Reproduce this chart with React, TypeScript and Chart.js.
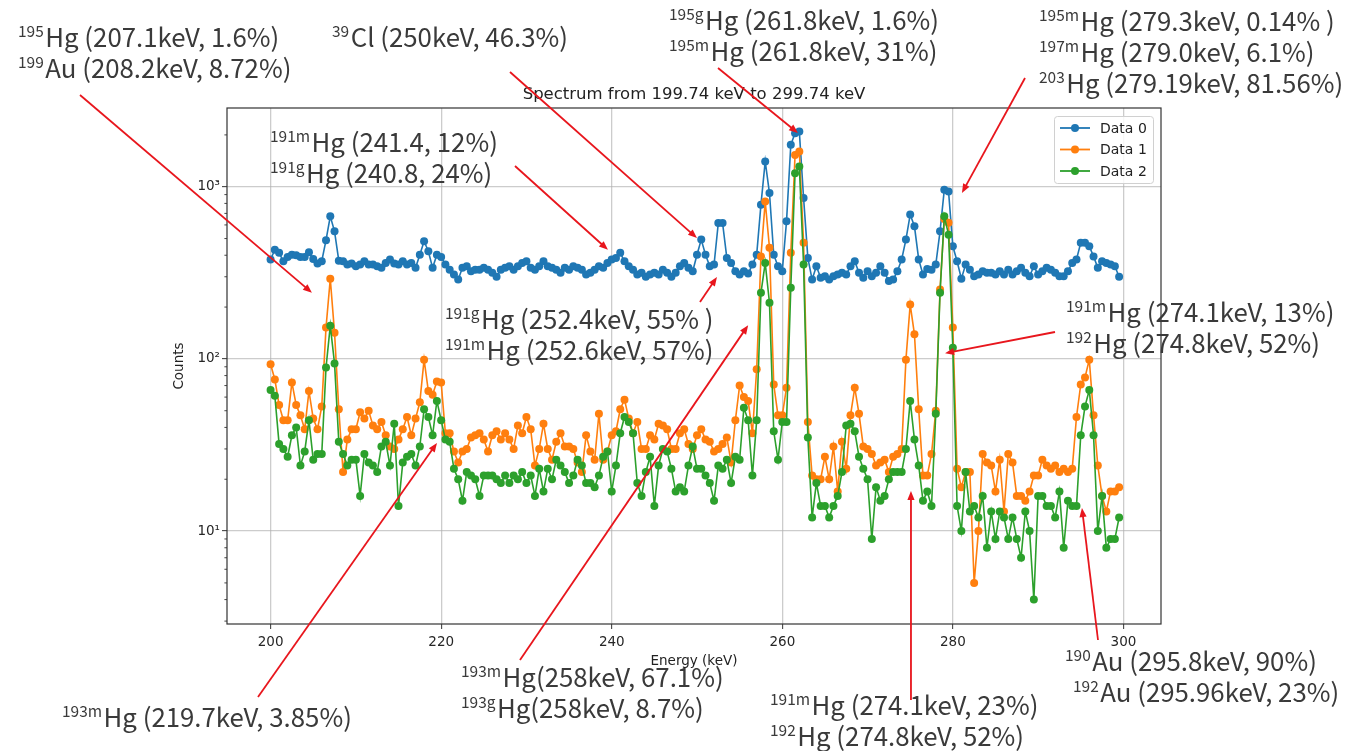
import React, { useEffect, useRef } from 'react';
import { Chart, registerables } from 'chart.js';

Chart.register(...registerables);

// ---- data -------------------------------------------------------------
const BIN_START = 199.74; // keV, first bin edge (from the title)
const BIN_WIDTH = 0.5; // keV per bin

const SERIES_LABELS = ['Data 0', 'Data 1', 'Data 2'];
const SERIES_COLORS = ['#1f77b4', '#ff7f0e', '#2ca02c'];

const DATA_0 = [
  378, 431, 413, 369, 391, 403, 400, 391, 391, 416, 381, 358, 369, 489, 673, 551, 372, 369, 353, 358,
  345, 353, 369, 353, 353, 345, 338, 361, 378, 358, 353, 369, 353, 361, 338, 403, 482, 422, 338, 403,
  391, 353, 330, 309, 289, 338, 345, 323, 330,
  330, 338, 330, 316, 300, 330, 338, 345, 330, 345, 361, 369, 338, 330, 345, 369, 345, 338, 330, 316,
  338, 330, 345, 338, 330, 309, 316, 330, 345, 338, 361, 378, 386, 413, 369, 345, 330, 309, 316, 300,
  309, 316, 309, 330, 316, 300, 316, 345, 361, 338,
  323, 403, 493, 403, 345, 353, 616, 616, 386, 361, 323, 309, 323, 313, 353, 403, 787, 1402, 919, 403,
  345, 323, 630, 1751, 2047, 2094, 859,
  386, 289, 345, 296, 302, 289, 302, 309, 316, 309, 345, 369, 316, 296, 323, 302, 316, 345, 316, 283,
  289, 323, 378, 493, 689, 589, 378, 309, 333, 330, 353, 551, 961, 937, 451, 369, 292, 353, 330, 302,
  309, 323,
  316, 316, 309, 323, 309, 330, 309, 323, 338, 316, 302, 345, 309, 323, 338, 330, 316, 302, 302, 323,
  361, 378, 472, 472, 451, 394, 338, 369, 361, 353, 345, 300,
];

const DATA_1 = [
  93, 76, 54, 44, 44, 73, 54, 47, 39, 65, 45, 39, 53, 152, 292, 142, 51, 22, 34, 39,
  39, 49, 45, 50, 41, 39, 43, 36, 31, 30, 34, 39, 46, 36, 45, 56, 99, 65, 62, 74,
  73, 37, 37, 29, 25, 29, 30, 35, 36,
  37, 34, 29, 36, 38, 34, 37, 34, 30, 41, 37, 46, 39, 24, 30, 42, 30, 26, 33, 37,
  31, 31, 30, 25, 22, 36, 29, 26, 48, 26, 29, 36, 38, 51, 58, 45, 37, 43, 30, 30,
  36, 34, 42, 41, 39, 30, 30, 37, 39, 32, 30,
  36, 39, 34, 33, 29, 30, 32, 35, 25, 44, 70, 60, 57, 37, 87, 394, 820, 442, 71, 47,
  47, 68, 413, 1530, 1600, 472, 43,
  21, 20, 20, 27, 20, 31, 17, 33, 23, 47, 68, 48, 31, 30, 28, 24, 25, 26, 22, 27,
  28, 30, 99, 207, 139, 51, 21, 21, 28, 50, 253, 650, 617, 152,
  23, 18, 22, 22, 5, 10, 28, 25, 24, 17, 26, 13, 28, 25, 16, 16, 15, 17, 21, 21,
  26, 24, 23, 24, 22, 23, 22, 23, 46, 71, 78, 99, 47, 24, 16, 13, 17, 17, 18,
];

const DATA_2 = [
  66, 61, 32, 30, 27, 36, 40, 24, 29, 44, 26, 28, 28, 89, 156, 94, 33, 28, 24, 26,
  26, 16, 28, 25, 24, 22, 31, 33, 24, 42, 14, 25, 27, 28, 24, 31, 51, 46, 36, 57,
  44, 34, 33, 23, 20, 15, 22, 21, 20,
  16, 21, 21, 21, 20, 19, 21, 19, 21, 20, 22, 19, 21, 16, 23, 17, 23, 20, 26, 24,
  22, 19, 21, 26, 24, 19, 19, 18, 21, 27, 29, 17, 24, 37, 46, 43, 37, 19, 16, 22,
  27, 14, 24, 30, 29, 23, 17, 18, 17, 24,
  31, 23, 23, 21, 19, 15, 24, 23, 26, 19, 27, 26, 52, 44, 21, 44, 242, 361, 212, 38,
  26, 43, 43, 259, 1199, 1312, 353, 35,
  12, 19, 14, 14, 12, 14, 16, 22, 41, 42, 38, 27, 23, 20, 9, 18, 15, 16, 20, 22,
  22, 22, 30, 57, 34, 24, 15, 17, 14, 48, 242, 673, 527, 116,
  14, 10, 22, 13, 14, 12, 16, 8, 13, 9, 13, 12, 9, 12, 9, 7, 13, 10, 4, 16,
  16, 14, 14, 12, 17, 8, 15, 14, 14, 36, 53, 66, 36, 10, 16, 8, 9, 9, 12,
];

const X_TICKS = [200, 220, 240, 260, 280, 300];
const Y_TICKS = [10, 100, 1000];
const Y_TICK_LABELS = ['10\u00b9', '10\u00b2', '10\u00b3'];
const X_MIN = 194.88;
const X_MAX = 304.4;
const Y_MIN = 2.886;
const Y_MAX = 2866;

const TITLE = 'Spectrum from 199.74 keV to 299.74 keV';
const X_LABEL = 'Energy (keV)';
const Y_LABEL = 'Counts';

// annotation texts: [superscript, text, extra x offset]
type Line = [string, string, number?];
interface Note {
  x: number;
  y: number;
  gap?: number;
  lines: Line[];
  from: [number, number];
  tip: [number, number]; // keV, counts
}

const NOTES: Note[] = [
  { x: 18, y: 47, lines: [['195', 'Hg (207.1keV, 1.6%)'], ['199', 'Au (208.2keV, 8.72%)']], from: [80, 95], tip: [204.84, 242] },
  { x: 332, y: 47, lines: [['39', 'Cl (250keV, 46.3%)']], from: [510, 72], tip: [249.99, 503] },
  { x: 669, y: 30, lines: [['195g', 'Hg (261.8keV, 1.6%)'], ['195m', 'Hg (261.8keV, 31%)']], from: [718, 68], tip: [261.83, 2051] },
  {
    x: 1039, y: 31, gap: 31,
    lines: [['195m', 'Hg (279.3keV, 0.14% )'], ['197m', 'Hg (279.0keV, 6.1%)'], ['203', 'Hg (279.19keV, 81.56%)']],
    from: [1025, 78], tip: [281.06, 920],
  },
  { x: 270, y: 152, lines: [['191m', 'Hg (241.4, 12%)'], ['191g', 'Hg (240.8, 24%)']], from: [515, 166], tip: [239.55, 430] },
  { x: 445, y: 329, lines: [['191g', 'Hg (252.4keV, 55% )'], ['191m', 'Hg (252.6keV, 57%)']], from: [700, 302], tip: [252.33, 299] },
  { x: 1066, y: 322, lines: [['191m', 'Hg (274.1keV, 13%)'], ['192', 'Hg (274.8keV, 52%)']], from: [1055, 332], tip: [279.08, 108] },
  { x: 461, y: 687, lines: [['193m', 'Hg(258keV, 67.1%)'], ['193g', 'Hg(258keV, 8.7%)']], from: [520, 660], tip: [255.99, 157] },
  { x: 62, y: 727, lines: [['193m', 'Hg (219.7keV, 3.85%)']], from: [258, 697], tip: [219.5, 32.5] },
  { x: 770, y: 715, lines: [['191m', 'Hg (274.1keV, 23%)'], ['192', 'Hg (274.8keV, 52%)']], from: [911, 700], tip: [275.08, 17.1] },
  { x: 1065, y: 671, lines: [['190', 'Au (295.8keV, 90%)'], ['192', 'Au (295.96keV, 23%)', 8]], from: [1098, 640], tip: [295.13, 13.6] },
];

// ---- drawing helpers ------------------------------------------------------
const NOTE_FONT = '"Noto Sans CJK JP", "Noto Sans", sans-serif';
const NOTE_SIZE = 25.8;
const AXIS_FONT = '"DejaVu Sans", sans-serif';

function drawArrow(ctx: CanvasRenderingContext2D, x0: number, y0: number, x1: number, y1: number) {
  const ang = Math.atan2(y1 - y0, x1 - x0);
  const head = 9;
  const half = 3.6;
  ctx.save();
  ctx.strokeStyle = '#e8161d';
  ctx.fillStyle = '#e8161d';
  ctx.lineWidth = 1.8;
  ctx.beginPath();
  ctx.moveTo(x0, y0);
  ctx.lineTo(x1 - Math.cos(ang) * head * 0.8, y1 - Math.sin(ang) * head * 0.8);
  ctx.stroke();
  ctx.beginPath();
  ctx.moveTo(x1, y1);
  ctx.lineTo(x1 - Math.cos(ang) * head - Math.sin(ang) * half, y1 - Math.sin(ang) * head + Math.cos(ang) * half);
  ctx.lineTo(x1 - Math.cos(ang) * head + Math.sin(ang) * half, y1 - Math.sin(ang) * head - Math.cos(ang) * half);
  ctx.closePath();
  ctx.fill();
  ctx.restore();
}

function drawIsotope(ctx: CanvasRenderingContext2D, x: number, y: number, sup: string, text: string) {
  const supSize = NOTE_SIZE * 0.6;
  ctx.fillStyle = '#3a3a3a';
  ctx.textAlign = 'left';
  ctx.textBaseline = 'alphabetic';
  ctx.font = `${supSize}px ${NOTE_FONT}`;
  ctx.fillText(sup, x, y - NOTE_SIZE * 0.38);
  const w = ctx.measureText(sup).width;
  ctx.font = `${NOTE_SIZE}px ${NOTE_FONT}`;
  ctx.fillText(text, x + w + 1.5, y);
}

const overlayPlugin = {
  id: 'overlay',
  afterDraw(chart: any) {
    const ctx: CanvasRenderingContext2D = chart.ctx;
    const area = chart.chartArea;
    const xs = chart.scales.x;
    const ys = chart.scales.y;
    ctx.save();

    // spines
    ctx.strokeStyle = '#333333';
    ctx.lineWidth = 1.2;
    ctx.strokeRect(area.left, area.top, area.right - area.left, area.bottom - area.top);

    // minor ticks on log axis
    ctx.lineWidth = 0.9;
    for (const d of [1, 10, 100, 1000]) {
      for (let m = 2; m <= 9; m++) {
        const v = d * m;
        if (v <= Y_MIN || v >= Y_MAX) continue;
        const py = ys.getPixelForValue(v);
        ctx.beginPath();
        ctx.moveTo(area.left - 2.6, py);
        ctx.lineTo(area.left, py);
        ctx.stroke();
      }
    }

    // title & axis labels
    ctx.fillStyle = '#222222';
    ctx.textAlign = 'center';
    ctx.textBaseline = 'middle';
    ctx.font = `16.5px ${AXIS_FONT}`;
    ctx.fillText(TITLE, (area.left + area.right) / 2, 95);
    ctx.font = `13.5px ${AXIS_FONT}`;
    ctx.fillText(X_LABEL, (area.left + area.right) / 2, 661);
    ctx.save();
    ctx.translate(179, (area.top + area.bottom) / 2);
    ctx.rotate(-Math.PI / 2);
    ctx.fillText(Y_LABEL, 0, 0);
    ctx.restore();

    // legend
    const lx = 1054, ly = 116, lw = 99, lh = 67;
    ctx.fillStyle = 'rgba(255,255,255,0.85)';
    ctx.strokeStyle = '#d0d0d0';
    ctx.lineWidth = 1;
    ctx.beginPath();
    (ctx as any).roundRect(lx + 0.5, ly + 0.5, lw, lh, 3);
    ctx.fill();
    ctx.stroke();
    SERIES_LABELS.forEach((label, k) => {
      const cy = ly + 12 + k * 21.5;
      ctx.strokeStyle = SERIES_COLORS[k];
      ctx.fillStyle = SERIES_COLORS[k];
      ctx.lineWidth = 1.8;
      ctx.beginPath();
      ctx.moveTo(lx + 6, cy);
      ctx.lineTo(lx + 36, cy);
      ctx.stroke();
      ctx.beginPath();
      ctx.arc(lx + 21, cy, 4, 0, Math.PI * 2);
      ctx.fill();
      ctx.fillStyle = '#222222';
      ctx.textAlign = 'left';
      ctx.textBaseline = 'middle';
      ctx.font = `14px ${AXIS_FONT}`;
      ctx.fillText(label, lx + 46, cy + 1);
    });

    // annotations
    for (const n of NOTES) {
      const gap = n.gap ?? 30.5;
      n.lines.forEach((ln, i) => {
        drawIsotope(ctx, n.x + (ln[2] ?? 0), n.y + i * gap, ln[0], ln[1]);
      });
      const tx = xs.getPixelForValue(n.tip[0]);
      const ty = ys.getPixelForValue(n.tip[1]);
      drawArrow(ctx, n.from[0], n.from[1], tx, ty);
    }
    ctx.restore();
  },
};

export default function App() {
  const ref = useRef<HTMLCanvasElement | null>(null);

  useEffect(() => {
    if (!ref.current) return;
    const series = [DATA_0, DATA_1, DATA_2];
    const energies = DATA_0.map((_, i) => BIN_START + BIN_WIDTH * (i + 0.5));
    const chart = new Chart(ref.current, {
      type: 'line',
      data: {
        datasets: series.map((vals, k) => ({
          label: SERIES_LABELS[k],
          data: vals.map((v, i) => ({ x: energies[i], y: v })),
          borderColor: SERIES_COLORS[k],
          backgroundColor: SERIES_COLORS[k],
          pointBackgroundColor: SERIES_COLORS[k],
          pointBorderColor: SERIES_COLORS[k],
          pointBorderWidth: 0,
          pointRadius: 4,
          borderWidth: 1.6,
          tension: 0,
          fill: false,
          order: 2 - k,
        })),
      },
      options: {
        responsive: false,
        animation: false,
        devicePixelRatio: 1,
        events: [],
        layout: { padding: { top: 108, right: 194, left: 0, bottom: 0 } },
        plugins: {
          legend: { display: false },
          title: { display: false },
          tooltip: { enabled: false },
        },
        scales: {
          x: {
            type: 'linear',
            min: X_MIN,
            max: X_MAX,
            bounds: 'data',
            afterFit: (s: any) => {
              s.height = 127;
            },
            afterBuildTicks: (s: any) => {
              s.ticks = X_TICKS.map((v) => ({ value: v }));
            },
            ticks: {
              autoSkip: false,
              maxRotation: 0,
              padding: 5,
              color: '#262626',
              font: { family: 'DejaVu Sans', size: 13.5 },
              callback: (v: any) => String(v),
            },
            grid: {
              color: 'rgba(176,176,176,0.65)',
              lineWidth: 1.3,
              drawTicks: true,
              tickLength: 5,
              tickColor: '#333333',
              tickWidth: 1,
            },
            border: { display: false },
          },
          y: {
            type: 'logarithmic',
            min: Y_MIN,
            max: Y_MAX,
            bounds: 'data',
            afterFit: (s: any) => {
              s.width = 227;
            },
            afterBuildTicks: (s: any) => {
              s.ticks = Y_TICKS.map((v) => ({ value: v, major: true }));
            },
            ticks: {
              autoSkip: false,
              padding: 2,
              color: '#262626',
              font: { family: 'DejaVu Sans', size: 13.5 },
              callback: (v: any) => {
                const idx = Y_TICKS.indexOf(Number(v));
                return idx >= 0 ? Y_TICK_LABELS[idx] : '';
              },
            },
            grid: {
              color: 'rgba(176,176,176,0.65)',
              lineWidth: 1.3,
              drawTicks: true,
              tickLength: 5,
              tickColor: '#333333',
              tickWidth: 1,
            },
            border: { display: false },
          },
        },
      } as any,
      plugins: [overlayPlugin],
    });
    return () => chart.destroy();
  }, []);

  return (
    <div style={{ position: 'absolute', left: 0, top: 0, width: 1355, height: 751, background: '#ffffff' }}>
      <canvas ref={ref} width={1355} height={751} style={{ display: 'block' }} />
    </div>
  );
}
